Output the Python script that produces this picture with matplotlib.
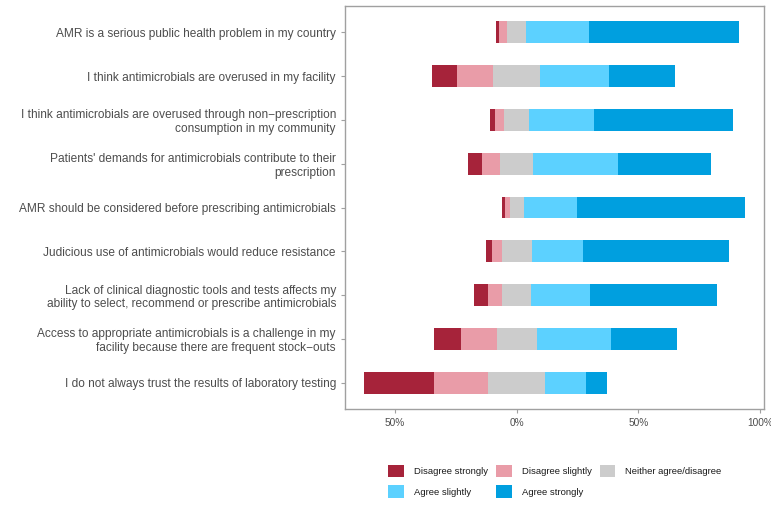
import matplotlib.pyplot as plt
from matplotlib.patches import Patch
import numpy as np

plt.rcParams["font.family"] = ["Liberation Sans", "DejaVu Sans"]

statements = [
    "AMR is a serious public health problem in my country",
    "I think antimicrobials are overused in my facility",
    "I think antimicrobials are overused through non\u2212prescription\nconsumption in my community",
    "Patients' demands for antimicrobials contribute to their\nprescription",
    "AMR should be considered before prescribing antimicrobials",
    "Judicious use of antimicrobials would reduce resistance",
    "Lack of clinical diagnostic tools and tests affects my\nability to select, recommend or prescribe antimicrobials",
    "Access to appropriate antimicrobials is a challenge in my\nfacility because there are frequent stock\u2212outs",
    "I do not always trust the results of laboratory testing",
]

levels = ["Disagree strongly", "Disagree slightly", "Neither agree/disagree",
          "Agree slightly", "Agree strongly"]
colours = ["#A6233A", "#E99CA8", "#CCCCCC", "#5CD1FF", "#009FDF"]

disagree_strongly = [1.0, 10.1, 2.0, 5.7, 1.1, 2.1, 5.7, 11.1, 28.7]
disagree_slightly = [3.6, 15.0, 3.7, 7.5, 1.9, 4.2, 5.9, 14.6, 22.3]
neutral = [7.7, 19.3, 10.2, 13.7, 5.8, 12.3, 11.8, 16.5, 23.4]
agree_slightly = [26.0, 28.3, 26.7, 35.0, 21.9, 21.0, 24.2, 30.5, 16.9]
agree_strongly = [61.5, 27.2, 57.2, 38.1, 69.2, 60.1, 52.4, 27.2, 8.7]

tick_vals = [-50, 0, 50, 100]
tick_labels = ["50%", "0%", "50%", "100%"]

fig = plt.figure(figsize=(7.71, 5.14), dpi=100)
ax = fig.add_axes([0.4475, 0.2043, 0.5438, 0.784])

y = np.arange(len(statements))
ds = np.array(disagree_strongly)
dsl = np.array(disagree_slightly)
nt = np.array(neutral)
asl = np.array(agree_slightly)
ast = np.array(agree_strongly)

# neutral centred on zero, disagree to the left, agree to the right
starts = [-nt / 2 - dsl - ds, -nt / 2 - dsl, -nt / 2, nt / 2, nt / 2 + asl]
widths = [ds, dsl, nt, asl, ast]
for left, w, c in zip(starts, widths, colours):
    ax.barh(y, w, left=left, height=0.5, color=c, edgecolor="none")

ax.set_xlim(-70.6, 101.8)
ax.set_ylim(len(statements) - 0.4, -0.6)
ax.set_yticks(y)
ax.set_yticklabels(statements, fontsize=8.6, color="#4D4D4D")
ax.set_xticks(tick_vals)
ax.set_xticklabels(tick_labels, fontsize=7.3, color="#4D4D4D")
ax.tick_params(axis="both", color="#A0A0A0", length=3, width=0.8)
for s in ax.spines.values():
    s.set_color("#A0A0A0")
    s.set_linewidth(1.0)

handles = [Patch(facecolor=c, edgecolor="none", label=l) for l, c in zip(levels, colours)]
order = [0, 3, 1, 4, 2]
fig.legend([handles[i] for i in order], [levels[i] for i in order],
           loc="upper center", bbox_to_anchor=(0.7198, 1 - 460 / 514),
           ncol=3, frameon=False, fontsize=6.8, handlelength=1.67, handleheight=1.67,
           columnspacing=0.85, handletextpad=1.05, labelspacing=0.85, borderpad=0,
           labelcolor="#1A1A1A")

fig.savefig("out.png", dpi=100)
